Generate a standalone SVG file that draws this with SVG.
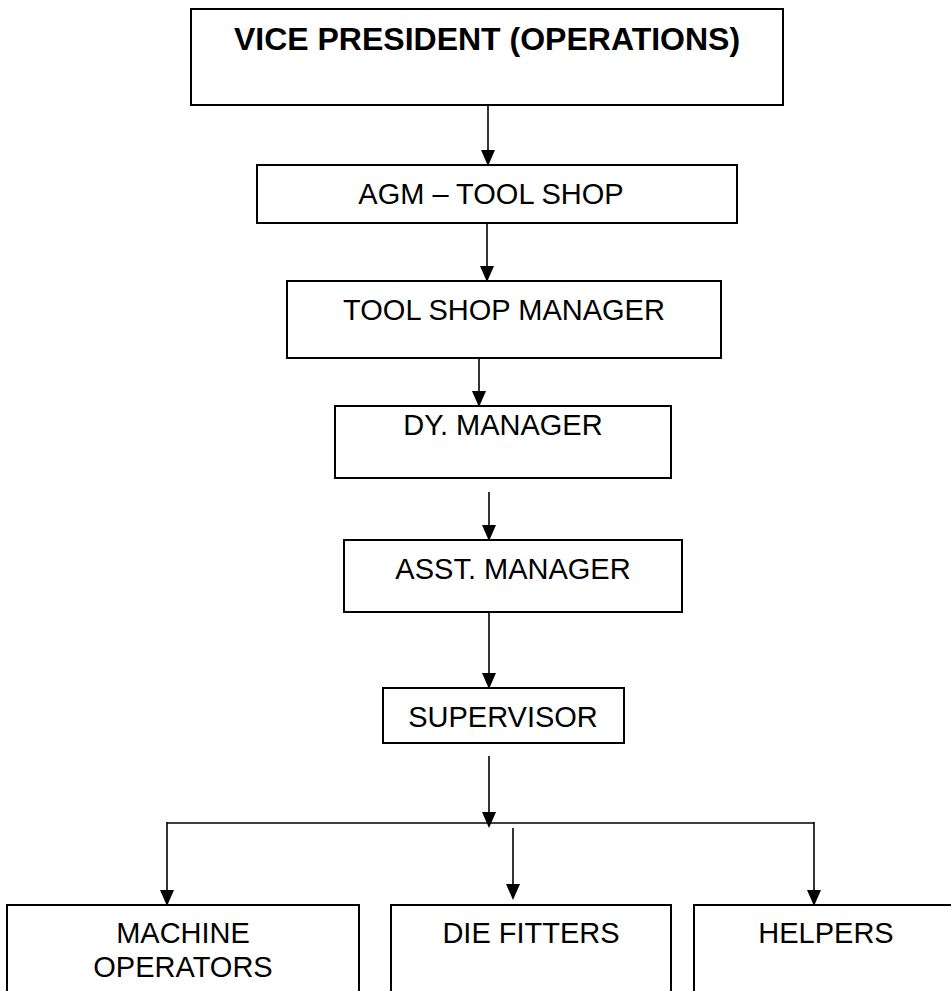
<svg xmlns="http://www.w3.org/2000/svg" width="951" height="991" viewBox="0 0 951 991">
<defs>
<style>
.box{fill:#fff;stroke:#000;stroke-width:2}
.t{font-family:"Liberation Sans",Arial,sans-serif;font-size:29px;fill:#000;text-anchor:middle}
.b{font-weight:bold;font-size:32px}
.c{fill:none;stroke:#000;stroke-width:1.6}
</style>
<marker id="ah" markerUnits="userSpaceOnUse" markerWidth="16" markerHeight="14" refX="14" refY="7" orient="auto" viewBox="0 0 16 14">
<path d="M0,0 L16,7 L0,14 z" fill="#000"/>
</marker>
</defs>
<rect width="951" height="991" fill="#fff"/>
<g id="connectors">
<line class="c" x1="488" y1="106" x2="488" y2="164" marker-end="url(#ah)"/>
<line class="c" x1="487" y1="224" x2="487" y2="280" marker-end="url(#ah)"/>
<line class="c" x1="479" y1="359" x2="479" y2="405" marker-end="url(#ah)"/>
<line class="c" x1="489" y1="492" x2="489" y2="539" marker-end="url(#ah)"/>
<line class="c" x1="489" y1="613" x2="489" y2="687" marker-end="url(#ah)"/>
<line class="c" x1="489" y1="756" x2="489" y2="826" marker-end="url(#ah)"/>
<line class="c" x1="167" y1="823" x2="814" y2="823"/>
<line class="c" x1="167" y1="822" x2="167" y2="904" marker-end="url(#ah)"/>
<line class="c" x1="814" y1="822" x2="814" y2="904" marker-end="url(#ah)"/>
<line class="c" x1="513" y1="828" x2="513" y2="898" marker-end="url(#ah)"/>
</g>
<g id="vp">
<rect class="box" x="191" y="9" width="592" height="96"/>
<text class="t b" x="487" y="50">VICE PRESIDENT (OPERATIONS)</text>
</g>
<g id="agm">
<rect class="box" x="257" y="165" width="480" height="58"/>
<text class="t" x="491" y="204">AGM – TOOL SHOP</text>
</g>
<g id="tsm">
<rect class="box" x="287" y="281" width="434" height="77"/>
<text class="t" x="504" y="320">TOOL SHOP MANAGER</text>
</g>
<g id="dy">
<rect class="box" x="335" y="406" width="336" height="72"/>
<text class="t" x="503" y="435">DY. MANAGER</text>
</g>
<g id="asst">
<rect class="box" x="344" y="540" width="338" height="72"/>
<text class="t" x="513" y="579">ASST. MANAGER</text>
</g>
<g id="sup">
<rect class="box" x="383" y="688" width="241" height="55"/>
<text class="t" x="503" y="727">SUPERVISOR</text>
</g>
<g id="mo">
<rect class="box" x="7" y="905" width="352" height="100"/>
<text class="t" x="183" y="943">MACHINE</text>
<text class="t" x="183" y="977">OPERATORS</text>
</g>
<g id="df">
<rect class="box" x="391" y="905" width="280" height="100"/>
<text class="t" x="531" y="943">DIE FITTERS</text>
</g>
<g id="helpers">
<rect class="box" x="694" y="905" width="266" height="100"/>
<text class="t" x="826" y="943">HELPERS</text>
</g>
</svg>
